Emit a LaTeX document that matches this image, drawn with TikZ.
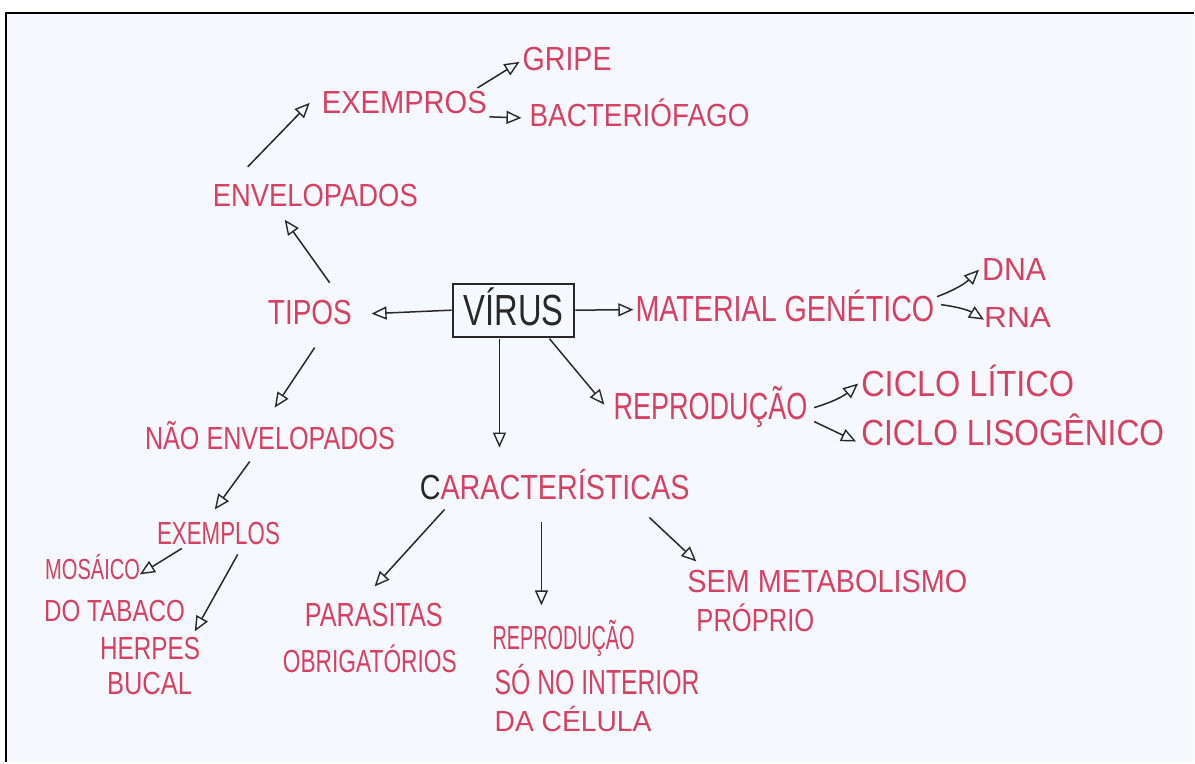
\documentclass[tikz,border=0pt]{standalone}
\usepackage{fontspec}
\setmainfont{Liberation Sans}
\usetikzlibrary{arrows.meta,calc}
\definecolor{ink}{RGB}{214,64,98}
\definecolor{pen}{RGB}{40,40,40}
\definecolor{paper}{RGB}{245,248,252}
% width, cap height, text
\newcommand\hw[3]{\resizebox{#1pt}{#2pt}{\raisebox{0pt}[\fontcharht\font`X][0pt]{#3}}}
\begin{document}
\begin{tikzpicture}[x=1pt,y=-1pt,
  lbl/.style={inner sep=0pt, anchor=base west, text=ink, font=\fontsize{20}{24}\selectfont},
  arr/.style={draw=pen, line width=1.5pt, -{Triangle[open,length=15pt,width=13pt,line width=1.4pt]}}]
\fill[white] (0,0) rectangle (1195,763);
\fill[paper] (6,13) rectangle (1195,763);
\draw[black, line width=2.5pt] (6,763) -- (6,13) -- (1195,13);
\useasboundingbox (0,0) rectangle (1195,763);

% central node
\node[draw=pen, line width=2pt, minimum width=122pt, minimum height=53pt, inner sep=0pt, text=pen, font=\fontsize{20}{24}\selectfont] (virus) at (514,310.5) {\hw{100}{30}{VÍRUS}};

% labels
\node[lbl] (gripe) at (523,71) {\hw{89}{23}{GRIPE}};
\node[lbl] (exempros) at (322,114) {\hw{165}{22}{EXEMPROS}};
\node[lbl] (bact) at (530,127) {\hw{220}{22}{BACTERIÓFAGO}};
\node[lbl] (env) at (213,207) {\hw{205}{22}{ENVELOPADOS}};
\node[lbl] (tipos) at (268,325) {\hw{84}{24}{TIPOS}};
\node[lbl] (mat) at (636,322) {\hw{299}{25}{MATERIAL GENÉTICO}};
\node[lbl] (dna) at (983,281) {\hw{64}{22}{DNA}};
\node[lbl] (rna) at (985,328) {\hw{67}{20}{RNA}};
\node[lbl] (repro) at (614,420) {\hw{194}{26}{REPRODUÇÃO}};
\node[lbl] (litico) at (862,397) {\hw{213}{25}{CICLO LÍTICO}};
\node[lbl] (liso) at (862,446) {\hw{303}{25}{CICLO LISOGÊNICO}};
\node[lbl] (naoenv) at (145,450) {\hw{250}{22}{NÃO ENVELOPADOS}};
\node[lbl] (caract) at (420,500) {\hw{270}{24}{{\color{pen}C}ARACTERÍSTICAS}};
\node[lbl] (exemplos) at (157,545) {\hw{123}{22}{EXEMPLOS}};
\node[lbl] (mosaico) at (45,580) {\hw{95}{20}{MOSÁICO}};
\node[lbl] (tabaco) at (44,622) {\hw{141}{21}{DO TABACO}};
\node[lbl] (herpes) at (100,660) {\hw{100}{22}{HERPES}};
\node[lbl] (bucal) at (107,695) {\hw{85}{22}{BUCAL}};
\node[lbl] (parasitas) at (305,627) {\hw{138}{23}{PARASITAS}};
\node[lbl] (obrig) at (283,673) {\hw{174}{22}{OBRIGATÓRIOS}};
\node[lbl] (reprod) at (493,650) {\hw{142}{23}{REPRODUÇÃO}};
\node[lbl] (sono) at (495,695) {\hw{205}{24}{SÓ NO INTERIOR}};
\node[lbl] (celula) at (495,732) {\hw{157}{20}{DA CÉLULA}};
\node[lbl] (sem) at (688,593) {\hw{280}{22}{SEM METABOLISMO}};
\node[lbl] (proprio) at (697,632) {\hw{118}{22}{PRÓPRIO}};

% connectors
\draw[arr] (virus.west) -- ($(tipos.base west)+(104,-11)$);
\draw[arr] (virus.east) -- ($(mat.base west)+(-2,-12)$);
\draw[arr] ($(virus.south)+(36,1)$) -- ($(repro.base west)+(-9,-15)$);
\draw[arr] ($(virus.south)+(-14,1)$) -- ($(caract.base west)+(80,-52)$);
\draw[arr] ($(tipos.base west)+(62,-42)$) -- ($(env.base west)+(72,13)$);
\draw[arr] ($(env.base west)+(35,-40)$) -- ($(exempros.base west)+(-12,-11)$);
\draw[arr] ($(exempros.base west)+(156,-26)$) -- ($(gripe.base west)+(-3,-9)$);
\draw[arr] ($(exempros.base west)+(168,3)$) -- ($(bact.base west)+(-8,-9)$);
\draw[arr] ($(mat.base west)+(302,-25)$) to[bend right=12] ($(dna.base west)+(-3,-11)$);
\draw[arr] ($(mat.base west)+(306,-17)$) to[bend left=12] ($(rna.base west)+(0,-8)$);
\draw[arr] ($(repro.base west)+(201,-12)$) to[bend right=12] ($(litico.base west)+(-3,-13)$);
\draw[arr] ($(repro.base west)+(201,2)$) -- ($(liso.base west)+(-5,-4)$);
\draw[arr] ($(tipos.base west)+(47,23)$) -- ($(naoenv.base west)+(130,-42)$);
\draw[arr] ($(naoenv.base west)+(105,12)$) -- ($(exemplos.base west)+(58,-35)$);
\draw[arr] ($(exemplos.base west)+(25,4)$) -- ($(mosaico.base west)+(95,-5)$);
\draw[arr] ($(exemplos.base west)+(81,10)$) -- ($(herpes.base west)+(95,-28)$);
\draw[arr] ($(caract.base west)+(25,10)$) -- ($(parasitas.base west)+(70,-40)$);
\draw[arr] ($(caract.base west)+(122,23)$) -- ($(reprod.base west)+(49,-44)$);
\draw[arr] ($(caract.base west)+(230,18)$) -- ($(sem.base west)+(9,-31)$);
\end{tikzpicture}
\end{document}
